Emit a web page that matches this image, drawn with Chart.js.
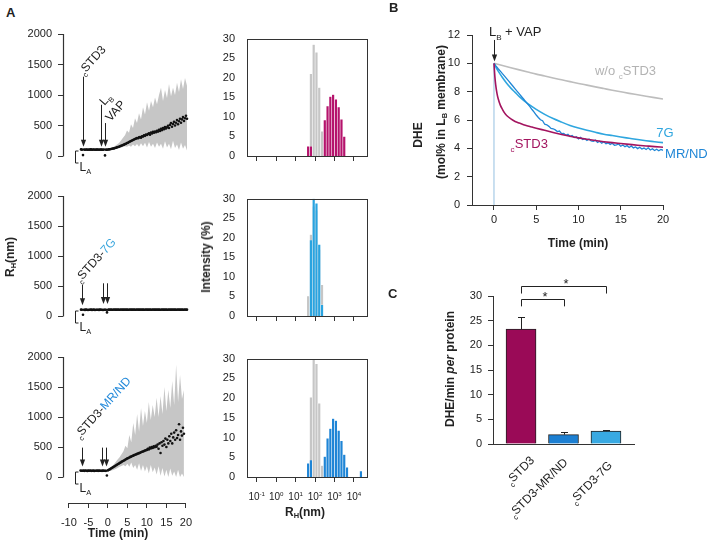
<!DOCTYPE html>
<html>
<head>
<meta charset="utf-8">
<title>DLS and DHE transfer</title>
<script src="https://cdn.jsdelivr.net/npm/chart.js@4.4.1/dist/chart.umd.min.js"></script>
<style>
  html, body { margin: 0; padding: 0; background: #fff; }
  #fig { position: relative; width: 709px; height: 543px; overflow: hidden; font-family: "Liberation Sans", Arial, sans-serif; color: #222; }
  #fig canvas { position: absolute; }
  .t { position: absolute; z-index: 2; font-weight: bold; font-size: 12px; white-space: nowrap; transform: translate(-50%, -50%); }
  .t.r { transform: translate(-50%, -50%) rotate(-90deg); }
  .t sub { font-size: 0.62em; vertical-align: -0.3em; line-height: 0; }
  .p { position: absolute; z-index: 2; font-weight: bold; font-size: 13px; }
</style>
</head>
<body>
<div id="fig">
  <div class="p" style="left:6px;top:5px">A</div>
  <div class="p" style="left:389px;top:0px">B</div>
  <div class="p" style="left:388px;top:286px">C</div>
  <div class="t r" style="left:10px;top:257px">R<sub>H</sub>(nm)</div>
  <div class="t r" style="left:206px;top:257px">Intensity (%)</div>
  <div class="t" style="left:118px;top:533px">Time (min)</div>
  <div class="t" style="left:305px;top:512px">R<sub>H</sub>(nm)</div>
  <div class="t r" style="left:418px;top:135px">DHE</div>
  <div class="t r" style="left:441px;top:112px">(mol% in L<sub>B</sub> membrane)</div>
  <div class="t" style="left:578px;top:243px">Time (min)</div>
  <div class="t r" style="left:450px;top:369px">DHE/min <i>per</i> protein</div>
</div>
<script>
// ---- panel A: R_H over time ----
const timeA = [
  -7, -6.75, -6.5, -6.25, -6, -5.75, -5.5, -5.25, -5, -4.75, -4.5, -4.25, -4, -3.75,
  -3.5, -3.25, -3, -2.75, -2.5, -2.25, -2, -1.75, -1.5, -1.25, -1, -0.75, -0.5, -0.25,
  0, 0.25, 0.5, 0.75, 1, 1.25, 1.5, 1.75, 2, 2.25, 2.5, 2.75, 3, 3.25, 3.5, 3.75, 4, 4.25, 4.5, 4.75,
  5, 5.25, 5.5, 5.75, 6, 6.25, 6.5, 6.75, 7, 7.25, 7.5, 7.75, 8, 8.25, 8.5, 8.75, 9, 9.25, 9.5, 9.75,
  10, 10.25, 10.5, 10.75, 11, 11.25, 11.5, 11.75, 12, 12.25, 12.5, 12.75, 13, 13.25, 13.5, 13.75, 14, 14.25, 14.5, 14.75,
  15, 15.25, 15.5, 15.75, 16, 16.25, 16.5, 16.75, 17, 17.25, 17.5, 17.75, 18, 18.25, 18.5, 18.75, 19, 19.25, 19.5
];
const rhSTD3 = [
  108, 104, 15, 106, 103, 107, 105, 102, 106, 104, 108, 103, 105, 107,
  102, 105, 104, 106, 103, 107, 104, 105, 102, 106, 10, 104, 103, 106,
  108, 110, 115, 118, 122, 125, 132, 135, 142, 148, 152, 160, 166, 172, 180, 186, 195, 200, 212, 218,
  230, 238, 245, 255, 262, 270, 278, 285, 295, 290, 305, 312, 300, 325, 318, 340, 330, 352, 345, 360,
  372, 350, 385, 370, 395, 380, 402, 390, 415, 400, 430, 410, 445, 425, 460, 440, 475, 450, 470, 495,
  460, 510, 540, 480, 525, 560, 500, 545, 590, 520, 570, 610, 545, 600, 640, 575, 620, 660, 610
];
const rh7G = [
  106, 103, 20, 105, 102, 106, 104, 101, 105, 103, 107, 102, 104, 106,
  101, 104, 103, 105, 102, 106, 103, 104, 101, 105, 103, 104, 60, 105,
  106, 104, 107, 103, 105, 108, 104, 106, 103, 107, 105, 104, 108, 103, 106, 105, 107, 104, 106, 103,
  105, 108, 104, 106, 103, 107, 105, 104, 108, 103, 106, 105, 107, 104, 106, 103, 105, 108, 104, 106,
  103, 107, 105, 104, 108, 103, 106, 105, 107, 104, 106, 103, 105, 108, 104, 106, 103, 107, 105, 104,
  108, 103, 106, 105, 107, 104, 106, 103, 105, 108, 104, 106, 103, 107, 105, 104, 108, 103, 106
];
const rhMRND = [
  107, 104, 105, 106, 103, 108, 105, 102, 106, 104, 107, 103, 105, 106,
  102, 105, 104, 107, 103, 106, 104, 105, 103, 106, 104, 105, 103, 25,
  110, 120, 128, 140, 150, 160, 172, 180, 192, 200, 212, 220, 232, 240, 252, 262, 272, 280, 292, 300,
  310, 318, 326, 335, 340, 350, 356, 365, 370, 378, 385, 392, 398, 405, 412, 420, 425, 432, 440, 445,
  452, 470, 460, 490, 475, 500, 485, 510, 495, 520, 505, 540, 470, 560, 400, 580, 520, 600, 540, 640,
  500, 620, 560, 680, 600, 720, 560, 660, 740, 620, 780, 650, 700, 880, 620, 760, 690, 820, 720
];
const bandTime = [
  -7, -6.5, -6, -5.5, -5, -4.5, -4, -3.5, -3, -2.5, -2, -1.5, -1, -0.5,
  0, 0.5, 1, 1.5, 2, 2.5, 3, 3.5, 4, 4.5, 5, 5.5, 6, 6.5, 7, 7.5, 8, 8.5, 9, 9.5,
  10, 10.5, 11, 11.5, 12, 12.5, 13, 13.5, 14, 14.5, 15, 15.5, 16, 16.5, 17, 17.5, 18, 18.5, 19, 19.5
];
const bandSTD3Hi = [
  114, 113, 115, 112, 114, 113, 115, 112, 114, 113, 115, 112, 114, 113,
  116, 130, 145, 165, 190, 215, 255, 300, 340, 420, 380, 520, 460, 620, 540, 700, 600, 800, 680, 880,
  740, 900, 800, 960, 850, 1000, 1120, 900, 1080, 950, 1180, 980, 1120, 1000, 1200, 1050, 1260, 1100, 1280, 1150
];
const bandSTD3Lo = [
  97, 98, 96, 98, 97, 96, 98, 97, 96, 98, 97, 96, 98, 97,
  96, 100, 105, 110, 118, 128, 138, 148, 158, 150, 172, 150, 188, 160, 198, 150, 208, 160, 218, 140,
  228, 150, 200, 130, 220, 150, 200, 120, 240, 140, 200, 110, 250, 130, 190, 100, 220, 120, 180, 90
];
const band7GHi = [
  114, 116, 113, 115, 117, 114, 116, 113, 115, 117, 114, 116, 113, 118,
  118, 122, 116, 124, 119, 125, 117, 123, 120, 126, 118, 124, 121, 127, 119, 125, 117, 123, 120, 126,
  118, 124, 121, 127, 119, 125, 117, 123, 120, 126, 118, 124, 121, 127, 119, 125, 117, 123, 120, 126
];
const band7GLo = [
  96, 94, 97, 95, 93, 96, 94, 97, 95, 93, 96, 94, 97, 92,
  92, 88, 94, 86, 91, 85, 93, 87, 90, 84, 92, 86, 89, 83, 91, 85, 93, 87, 90, 84,
  92, 86, 89, 83, 91, 85, 93, 87, 90, 84, 92, 86, 89, 83, 91, 85, 93, 87, 90, 84
];
const bandMRNDHi = [
  113, 114, 112, 115, 113, 114, 112, 115, 113, 114, 112, 115, 113, 114,
  116, 140, 170, 210, 250, 290, 330, 380, 430, 520, 480, 700, 580, 900, 700, 1050, 760, 1150, 850, 1100,
  900, 1250, 950, 1200, 1000, 1320, 1000, 1350, 1050, 1500, 1100, 1450, 1150, 1600, 1200, 1870, 1250, 1700, 1300, 1450
];
const bandMRNDLo = [
  97, 96, 98, 97, 96, 98, 97, 96, 98, 97, 96, 98, 97, 96,
  96, 100, 110, 120, 135, 150, 170, 185, 200, 180, 220, 170, 240, 150, 200, 120, 230, 100, 200, 90,
  180, 60, 200, 80, 160, 40, 180, 20, 150, 10, 120, 0, 140, 20, 90, 0, 120, 0, 60, 0
];
const yTicksA = [0, 500, 1000, 1500, 2000];
const xTicksA = [-10, -5, 0, 5, 10, 15, 20];

// ---- panel A: DLS size distributions (log bins, nm) ----
const binsNm = [44, 61, 85, 118, 164, 228, 316, 439, 611, 848, 1179, 1638, 2276, 3162, 4394, 6105, 8483, 11788, 16379, 22758];
const histRef1 = [0, 21, 28.5, 26.5, 17.5, 6.3, 0, 0, 0, 0, 0, 0, 0, 0, 0, 0, 0, 0, 0, 0];
const histSTD3 = [2.5, 2.5, 0, 0, 0, 0, 9.2, 12.8, 15.2, 15.7, 14.5, 12.5, 9.4, 5, 0, 0, 0, 0, 0, 0];
const histRef2 = [5.1, 20.8, 28, 27, 17, 8, 0, 0, 0, 0, 0, 0, 0, 0, 0, 0, 0, 0, 0, 0];
const hist7G = [0, 19.4, 30, 28.8, 18.3, 2.9, 0, 0, 0, 0, 0, 0, 0, 0, 0, 0, 0, 0, 0, 0];
const histRef3 = [0, 20.2, 29.7, 28.7, 18.7, 2.9, 0, 0, 0, 0, 0, 0, 0, 0, 0, 0, 0, 0, 0, 0];
const histMRND = [3.5, 4.3, 0, 0, 0, 0, 5.2, 9.8, 12.3, 14.8, 14.3, 11.8, 9.2, 5.7, 2.5, 0, 0, 0, 0, 1.5];
const histXTicks = [0.1, 1, 10, 100, 1000, 10000];
const histExp = ['-1', '0', '1', '2', '3', '4'];

// ---- panel B: DHE transfer kinetics ----
const timeWo = [0, 1, 2, 3, 4, 5, 6, 7, 8, 9, 10, 11, 12, 13, 14, 15, 16, 17, 18, 19, 20];
const dheWo = [10, 9.84, 9.69, 9.54, 9.39, 9.24, 9.11, 8.97, 8.84, 8.71, 8.58, 8.46, 8.34, 8.22, 8.1, 7.99, 7.88, 7.78, 7.68, 7.58, 7.48];
const time7G = [0, 0.25, 0.5, 1, 1.5, 2, 2.5, 3, 4, 5, 6, 7, 8, 9, 10, 11, 12, 13, 14, 15, 16, 17, 18, 19, 20];
const dhe7G = [10, 9.7, 9.45, 9.0, 8.6, 8.25, 7.95, 7.65, 7.15, 6.75, 6.4, 6.1, 5.85, 5.62, 5.43, 5.27, 5.13, 5.0, 4.9, 4.8, 4.71, 4.62, 4.54, 4.47, 4.4];
const timeMR = [
  0, 0.25, 0.5, 0.75, 1, 1.25, 1.5, 1.75, 2, 2.25, 2.5, 2.75, 3, 3.25, 3.5, 3.75, 4, 4.25, 4.5, 4.75,
  5, 5.25, 5.5, 5.75, 6, 6.25, 6.5, 6.75, 7, 7.25, 7.5, 7.75, 8, 8.25, 8.5, 8.75, 9, 9.25, 9.5, 9.75,
  10, 10.25, 10.5, 10.75, 11, 11.25, 11.5, 11.75, 12, 12.25, 12.5, 12.75, 13, 13.25, 13.5, 13.75, 14, 14.25, 14.5, 14.75,
  15, 15.25, 15.5, 15.75, 16, 16.25, 16.5, 16.75, 17, 17.25, 17.5, 17.75, 18, 18.25, 18.5, 18.75, 19, 19.25, 19.5, 19.75, 20
];
const dheMR = [
  10.0, 9.8, 9.62, 9.45, 9.27, 9.1, 8.92, 8.74, 8.56, 8.38, 8.2, 8.02, 7.84, 7.66, 7.48, 7.3, 7.12, 6.94, 6.74, 6.55,
  6.35, 6.18, 6.02, 5.95, 5.70, 5.66, 5.55, 5.41, 5.38, 5.30, 5.18, 5.22, 5.04, 5.06, 4.92, 4.99, 4.84, 4.90, 4.76, 4.81,
  4.66, 4.77, 4.62, 4.68, 4.55, 4.66, 4.52, 4.49, 4.58, 4.41, 4.50, 4.36, 4.46, 4.33, 4.39, 4.28, 4.36, 4.22, 4.25, 4.31,
  4.15, 4.24, 4.12, 4.19, 4.06, 4.17, 4.03, 4.10, 3.98, 4.08, 3.95, 4.02, 3.92, 4.04, 3.88, 3.97, 3.85, 3.94, 3.83, 3.92, 3.86
];
const timeSTD3 = [0, 0.1, 0.2, 0.35, 0.5, 0.75, 1, 1.25, 1.5, 2, 2.5, 3, 3.5, 4, 4.5, 5, 6, 7, 8, 9, 10, 11, 12, 13, 14, 15, 16, 17, 18, 19, 20];
const dheSTD3 = [10, 9.1, 8.5, 7.9, 7.5, 7.05, 6.75, 6.5, 6.32, 6.08, 5.9, 5.78, 5.67, 5.58, 5.5, 5.42, 5.27, 5.12, 4.98, 4.85, 4.74, 4.64, 4.55, 4.47, 4.4, 4.34, 4.28, 4.22, 4.17, 4.12, 4.08];
const timeZero = [0, 0];
const dheZero = [0, 10];
const xTicksB = [0, 5, 10, 15, 20];

// ---- panel C: initial rates ----
const rateIndex = [0, 1, 2];
const rateLabels = ['STD3', 'STD3-MR/ND', 'STD3-7G'];
const rateMeans = [23.3, 1.9, 2.6];
const rateErr = [2.4, 0.45, 0.2];

const FONT = '"Liberation Sans", Arial, Helvetica, sans-serif';
const AXIS = '#333';
const GRAY = '#c6c6c6';
const MAGENTA = '#a3145f';
const BLUE = '#1f86d6';
const LIGHTBLUE = '#2fa6df';

Chart.defaults.font.family = FONT;
Chart.defaults.font.size = 11;
Chart.defaults.color = '#222';
Chart.defaults.animation = false;
Chart.defaults.responsive = false;
Chart.defaults.events = [];
Chart.defaults.plugins.legend.display = false;
Chart.defaults.plugins.tooltip.enabled = false;

function makeCanvas(left, top, w, h) {
  const c = document.createElement('canvas');
  c.width = w; c.height = h;
  c.style.left = left + 'px'; c.style.top = top + 'px';
  c.style.width = w + 'px'; c.style.height = h + 'px';
  document.getElementById('fig').appendChild(c);
  return c;
}
const fixW = w => s => { s.width = w; };
const fixH = h => s => { s.height = h; };
const pts = (xs, ys) => xs.map((v, i) => ({ x: v, y: ys[i] }));
const ticksAt = list => s => { s.ticks = list.map(v => ({ value: v })); };

// text with sub/superscripts, optionally rotated (degrees)
function rich(ctx, x, y, parts, o = {}) {
  const size = o.size || 12;
  const fontOf = p => (p[1] === 'i' ? 'italic ' : '') + (o.bold ? 'bold ' : '') +
    ((p[1] === 'sub' || p[1] === 'sup') ? size * 0.62 : size) + 'px ' + FONT;
  ctx.save();
  ctx.translate(x, y);
  if (o.rot) ctx.rotate(o.rot * Math.PI / 180);
  ctx.textBaseline = o.baseline || 'alphabetic';
  ctx.textAlign = 'left';
  let w = 0;
  parts.forEach(p => { ctx.font = fontOf(p); w += ctx.measureText(p[0]).width; });
  let cx = o.align === 'center' ? -w / 2 : o.align === 'right' ? -w : 0;
  parts.forEach(p => {
    ctx.font = fontOf(p);
    ctx.fillStyle = p[2] || o.color || '#222';
    const dy = p[1] === 'sub' ? size * 0.28 : p[1] === 'sup' ? -size * 0.42 : 0;
    ctx.fillText(p[0], cx, dy);
    cx += ctx.measureText(p[0]).width;
  });
  ctx.restore();
}

function arrowDown(ctx, x, yTop, yTip) {
  x = Math.round(x) + 0.5;
  ctx.save();
  ctx.strokeStyle = ctx.fillStyle = '#222';
  ctx.lineWidth = 1;
  ctx.beginPath(); ctx.moveTo(x, yTop); ctx.lineTo(x, yTip - 5); ctx.stroke();
  ctx.beginPath(); ctx.moveTo(x - 2.6, yTip - 7); ctx.lineTo(x + 2.6, yTip - 7); ctx.lineTo(x, yTip); ctx.closePath(); ctx.fill();
  ctx.restore();
}

function aDeco(cfg) {
  return {
    id: 'adeco',
    afterDraw(chart) {
      const { ctx, chartArea: ca, scales: { x, y } } = chart;
      ctx.save();
      ctx.strokeStyle = AXIS; ctx.lineWidth = 1.2;
      const x0 = Math.round(ca.left) + 0.5;
      ctx.beginPath(); ctx.moveTo(x0, y.getPixelForValue(0) + 0.5); ctx.lineTo(x0, y.getPixelForValue(2000)); ctx.stroke();
      if (cfg.xAxis) {
        const yb = Math.round(ca.bottom) + 0.5;
        ctx.beginPath(); ctx.moveTo(x.getPixelForValue(-10), yb); ctx.lineTo(x.getPixelForValue(20), yb); ctx.stroke();
      }
      cfg.arrows.forEach(a => arrowDown(ctx, x.getPixelForValue(a[0]), y.getPixelForValue(a[1]), y.getPixelForValue(a[2])));
      cfg.labels.forEach(l => rich(ctx, x.getPixelForValue(l.t), y.getPixelForValue(l.v), l.parts, { rot: -48, size: 12 }));
      // L_A bracket
      const bx = Math.round(x.getPixelForValue(-8.5)) + 0.5, b0 = y.getPixelForValue(0);
      ctx.lineWidth = 1; ctx.strokeStyle = '#222';
      ctx.beginPath();
      ctx.moveTo(bx + 3, b0 - 5); ctx.lineTo(bx, b0 - 5); ctx.lineTo(bx, b0 + 7); ctx.lineTo(bx + 3, b0 + 7);
      ctx.stroke();
      rich(ctx, bx + 4, b0 + 15, [['L'], ['A', 'sub']], { size: 12 });
      ctx.restore();
    }
  };
}

function timeChart(left, top, w, h, pad, dots, hi, lo, cfg) {
  const cv = makeCanvas(left, top, w, h);
  const xScale = {
    type: 'linear', min: -11.5, max: 20, display: !!cfg.xAxis,
    afterBuildTicks: ticksAt(xTicksA),
    border: { display: false },
    grid: { drawOnChartArea: false, tickLength: 5, color: AXIS },
    ticks: { padding: 8, maxRotation: 0, minRotation: 0, autoSkip: false }
  };
  if (cfg.xAxis) xScale.afterFit = fixH(40);
  return new Chart(cv, {
    type: 'line',
    data: {
      datasets: [
        { data: pts(timeA, dots), showLine: false, pointRadius: 1.3, pointBackgroundColor: '#111', pointBorderWidth: 0, clip: false, order: 0 },
        { data: pts(bandTime, hi), borderWidth: 0, pointRadius: 0, backgroundColor: GRAY, fill: '+1', order: 1 },
        { data: pts(bandTime, lo), borderWidth: 0, pointRadius: 0, fill: false, order: 2 }
      ]
    },
    options: {
      layout: { padding: pad },
      scales: {
        x: xScale,
        y: {
          min: cfg.yMin, max: 2000,
          afterBuildTicks: ticksAt(yTicksA), afterFit: fixW(63),
          border: { display: false },
          grid: { drawOnChartArea: false, tickLength: 5, color: AXIS },
          ticks: { padding: 6, callback: v => v }
        }
      }
    },
    plugins: [aDeco(cfg)]
  });
}

function histDeco(withLabels) {
  return {
    id: 'hdeco',
    afterDraw(chart) {
      const { ctx, chartArea: ca, scales: { x } } = chart;
      ctx.save();
      ctx.strokeStyle = AXIS; ctx.lineWidth = 1;
      ctx.strokeRect(Math.round(ca.left) + 0.5, Math.round(ca.top) + 0.5, Math.round(ca.width), Math.round(ca.height));
      if (withLabels) {
        histXTicks.forEach((v, i) => rich(ctx, x.getPixelForValue(v), ca.bottom + 23, [['10'], [histExp[i], 'sup']], { size: 10, align: 'center' }));
      }
      ctx.restore();
    }
  };
}

function histChart(left, top, w, h, pad, xH, ref, sample, color, withLabels) {
  const cv = makeCanvas(left, top, w, h);
  const bars = vals => binsNm.map((b, i) => ({ x: b, y: vals[i] || null }));
  return new Chart(cv, {
    type: 'bar',
    data: {
      datasets: [
        { data: bars(sample), backgroundColor: color, borderColor: 'rgba(255,255,255,0.35)', borderWidth: 0.6, grouped: false, order: 0 },
        { data: bars(ref), backgroundColor: GRAY, borderColor: 'rgba(255,255,255,0.45)', borderWidth: 0.6, grouped: false, order: 1 }
      ]
    },
    options: {
      layout: { padding: pad },
      datasets: { bar: { categoryPercentage: 1, barPercentage: 1 } },
      scales: {
        x: {
          type: 'logarithmic', min: Math.pow(10, -1.5), max: Math.pow(10, 4.67), offset: false,
          afterBuildTicks: ticksAt(histXTicks), afterFit: fixH(xH),
          border: { display: false },
          grid: { drawOnChartArea: false, tickLength: 5, color: AXIS, offset: false },
          ticks: { display: false }
        },
        y: {
          min: 0, max: 30, afterFit: fixW(47),
          border: { display: false },
          grid: { display: false, drawTicks: false },
          ticks: { stepSize: 5, padding: 12 }
        }
      }
    },
    plugins: [histDeco(withLabels)]
  });
}

// time courses
timeChart(0, 20, 200, 160, { top: 14, right: 11, bottom: 24, left: 0 }, rhSTD3, bandSTD3Hi, bandSTD3Lo, {
  yMin: 0,
  arrows: [[-6.6, 1300, 150], [-2, 840, 150], [-0.9, 540, 150]],
  labels: [
    { t: -6.4, v: 1320, parts: [['c', 'sub'], ['STD3']] },
    { t: -1.1, v: 820, parts: [['L'], ['B', 'sub']] },
    { t: 0.4, v: 557, parts: [['VAP']] }
  ]
});
timeChart(0, 180, 200, 160, { top: 16, right: 11, bottom: 24, left: 0 }, rh7G, band7GHi, band7GLo, {
  yMin: 0,
  arrows: [[-6.8, 520, 180], [-1.4, 545, 200], [-0.4, 545, 200]],
  labels: [{ t: -7.25, v: 550, parts: [['c', 'sub'], ['STD3-'], ['7G', null, '#3aa6dd']] }]
});
timeChart(0, 340, 200, 203, { top: 17, right: 11, bottom: 0, left: 0 }, rhMRND, bandMRNDHi, bandMRNDLo, {
  yMin: -433, xAxis: true,
  arrows: [[-6.7, 490, 175], [-1.4, 490, 175], [-0.4, 490, 175]],
  labels: [{ t: -7.25, v: 633, parts: [['c', 'sub'], ['STD3-'], ['MR/ND', null, '#2289da']] }]
});

// size distributions
histChart(200, 20, 190, 160, { top: 15, right: 23, bottom: 0, left: 0 }, 24, histRef1, histSTD3, '#b5136c', false);
histChart(200, 180, 190, 160, { top: 16, right: 23, bottom: 0, left: 0 }, 24, histRef2, hist7G, '#29a4e0', false);
histChart(200, 340, 190, 203, { top: 17, right: 23, bottom: 0, left: 0 }, 66, histRef3, histMRND, '#1f85d6', true);

// panel B
new Chart(makeCanvas(400, 20, 309, 230), {
  type: 'line',
  data: {
    datasets: [
      { data: pts(timeSTD3, dheSTD3), borderColor: MAGENTA, cubicInterpolationMode: 'monotone', order: 0 },
      { data: pts(timeMR, dheMR), borderColor: BLUE, borderWidth: 1.3, order: 1 },
      { data: pts(time7G, dhe7G), borderColor: LIGHTBLUE, cubicInterpolationMode: 'monotone', order: 2 },
      { data: pts(timeWo, dheWo), borderColor: '#bdbdbd', cubicInterpolationMode: 'monotone', order: 3 },
      { data: pts(timeZero, dheZero), borderColor: '#a6cbe6', borderWidth: 1.2, order: 4 }
    ]
  },
  options: {
    layout: { padding: { top: 15, right: 46, bottom: 0, left: 0 } },
    elements: { point: { radius: 0 }, line: { borderWidth: 1.6 } },
    scales: {
      x: {
        type: 'linear', min: -2.6, max: 20,
        afterBuildTicks: ticksAt(xTicksB), afterFit: fixH(45),
        border: { color: AXIS },
        grid: { drawOnChartArea: false, tickLength: 5, color: AXIS },
        ticks: { padding: 3, maxRotation: 0 }
      },
      y: {
        min: 0, max: 12, afterFit: fixW(72),
        border: { color: AXIS },
        grid: { drawOnChartArea: false, tickLength: 5, color: AXIS },
        ticks: { stepSize: 2, padding: 7 }
      }
    }
  },
  plugins: [{
    id: 'bdeco',
    afterDraw(chart) {
      const { ctx, scales: { x, y } } = chart;
      arrowDown(ctx, x.getPixelForValue(0), y.getPixelForValue(11.65), y.getPixelForValue(10.13));
      rich(ctx, x.getPixelForValue(-0.6), y.getPixelForValue(11.93), [['L'], ['B', 'sub'], [' + VAP']], { size: 13 });
      rich(ctx, x.getPixelForValue(11.95), y.getPixelForValue(9.17), [['w/o '], ['c', 'sub'], ['STD3']], { size: 13, color: '#b3b3b3' });
      rich(ctx, x.getPixelForValue(19.2), y.getPixelForValue(4.82), [['7G']], { size: 13, color: LIGHTBLUE });
      rich(ctx, x.getPixelForValue(20.25), y.getPixelForValue(3.29), [['MR/ND']], { size: 13, color: BLUE });
      rich(ctx, x.getPixelForValue(1.97), y.getPixelForValue(4.0), [['c', 'sub'], ['STD3']], { size: 13, color: MAGENTA });
    }
  }]
});

// panel C
const rateColors = ['#9a0a57', '#1c7fd2', '#38a9e2'];
new Chart(makeCanvas(420, 250, 289, 293), {
  type: 'bar',
  data: {
    datasets: [{
      data: pts(rateIndex, rateMeans),
      backgroundColor: rateColors, borderColor: '#222', borderWidth: 1, barThickness: 30
    }]
  },
  options: {
    layout: { padding: { top: 46, right: 75, bottom: 0, left: 0 } },
    scales: {
      x: {
        type: 'linear', min: -0.66, max: 2.66, offset: false, afterFit: fixH(99),
        border: { color: AXIS },
        grid: { display: false, drawTicks: false, offset: false },
        ticks: { display: false }
      },
      y: {
        min: 0, max: 30, afterFit: fixW(73),
        border: { color: AXIS },
        grid: { drawOnChartArea: false, tickLength: 5, color: AXIS },
        ticks: { stepSize: 5, padding: 6 }
      }
    }
  },
  plugins: [{
    id: 'cdeco',
    afterDraw(chart) {
      const { ctx, chartArea: ca, scales: { x, y } } = chart;
      ctx.save();
      ctx.strokeStyle = '#222'; ctx.lineWidth = 1;
      rateMeans.forEach((m, i) => {
        const px = Math.round(x.getPixelForValue(rateIndex[i])) + 0.5;
        const top = Math.round(y.getPixelForValue(m + rateErr[i])) + 0.5;
        ctx.beginPath();
        ctx.moveTo(px, y.getPixelForValue(m)); ctx.lineTo(px, top);
        ctx.moveTo(px - 3.5, top); ctx.lineTo(px + 3.5, top);
        ctx.stroke();
      });
      // significance brackets: [to bar, line value, leg end value]
      [[1, 29.3, 27.9], [2, 32.0, 30.5]].forEach(([j, h, leg]) => {
        const xa = Math.round(x.getPixelForValue(0)) + 0.5, xb = Math.round(x.getPixelForValue(j)) + 0.5;
        const yh = Math.round(y.getPixelForValue(h)) + 0.5, yl = y.getPixelForValue(leg);
        ctx.beginPath();
        ctx.moveTo(xa, yl); ctx.lineTo(xa, yh); ctx.lineTo(xb, yh); ctx.lineTo(xb, yl);
        ctx.stroke();
        rich(ctx, (xa + xb) / 2 + 2, yh + 1, [['*']], { size: 13, align: 'center' });
      });
      const shift = [[14, 17], [5, 19], [7, 22]];
      rateLabels.forEach((lab, i) => {
        rich(ctx, x.getPixelForValue(rateIndex[i]) + shift[i][0], ca.bottom + shift[i][1],
          [['c', 'sub'], [lab]], { size: 12, rot: -45, align: 'right' });
      });
      ctx.restore();
    }
  }]
});
</script>
</body>
</html>
